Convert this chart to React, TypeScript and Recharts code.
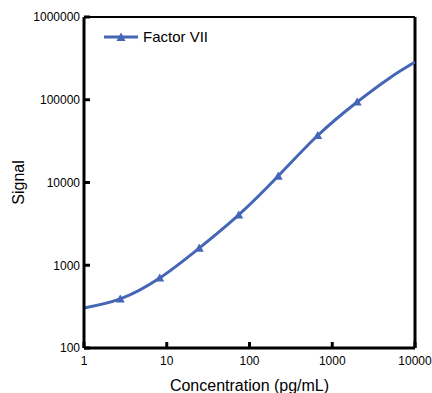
import {
  ComposedChart,
  Legend,
  Line,
  ReferenceLine,
  Scatter,
  XAxis,
  YAxis
} from "recharts";

// fitted curve (pg/mL, signal)
const curveConc = [1, 2.74, 8.23, 24.69, 74.07, 222.2, 666.7, 2000, 5000, 10000];
const curveSignal = [305, 392, 701, 1611, 4060, 11970, 37000, 94000, 185000, 285000];

// measured standards (3-fold dilutions from 2000 pg/mL)
const stdConc = [2.74, 8.23, 24.69, 74.07, 222.2, 666.7, 2000];
const stdSignal = [392, 701, 1611, 4060, 11970, 37000, 94000];

const xTicks = [1, 10, 100, 1000, 10000];
const yTicks = [100, 1000, 10000, 100000, 1000000];

const seriesName = "Factor VII";
const blue = "#4566b6";
const font = "'Liberation Sans', Arial, sans-serif";

const curveData = curveConc.map((x, i) => ({ x, y: curveSignal[i] }));
const stdData = stdConc.map((x, i) => ({ x, y: stdSignal[i] }));

function Triangle(props: any) {
  const { cx, cy } = props;
  if (cx == null || cy == null) return null;
  const s = 4.5;
  return (
    <path
      d={`M${cx},${cy - s} L${cx + s},${cy + s * 0.8} L${cx - s},${cy + s * 0.8} Z`}
      fill={blue}
    />
  );
}

function LegendBox() {
  return (
    <div style={{ display: "flex", alignItems: "center", fontFamily: font, fontSize: 15, color: "#000" }}>
      <svg width={34} height={12} style={{ display: "block" }}>
        <line x1={0} x2={34} y1={6} y2={6} stroke={blue} strokeWidth={3} />
        <path d="M17,1.5 L21.5,10 L12.5,10 Z" fill={blue} />
      </svg>
      <span style={{ marginLeft: 5 }}>{seriesName}</span>
    </div>
  );
}

export default function App() {
  return (
    <div style={{ position: "absolute", left: 0, top: 0, background: "#fff" }}>
      <ComposedChart
        width={432}
        height={393}
        margin={{ top: 17, right: 17, bottom: 0, left: 0 }}
        style={{ fontFamily: font }}
      >
        <XAxis
          dataKey="x"
          type="number"
          scale="log"
          domain={[1, 10000]}
          ticks={xTicks}
          allowDataOverflow
          height={45}
          axisLine={{ stroke: "#000", strokeWidth: 3 }}
          tickLine={{ stroke: "#000", strokeWidth: 3 }}
          tickSize={-6}
          tickMargin={14}
          tick={{ fill: "#000", fontSize: 12 }}
          interval={0}
          label={{
            value: "Concentration (pg/mL)",
            position: "insideBottom",
            offset: 2,
            fill: "#000",
            fontSize: 16
          }}
        />
        <YAxis
          dataKey="y"
          type="number"
          scale="log"
          domain={[100, 1000000]}
          ticks={yTicks}
          allowDataOverflow
          width={84}
          axisLine={{ stroke: "#000", strokeWidth: 3 }}
          tickLine={{ stroke: "#000", strokeWidth: 3 }}
          tickSize={-6}
          tickMargin={10}
          tick={{ fill: "#000", fontSize: 12 }}
          interval={0}
          label={{
            value: "Signal",
            angle: -90,
            position: "insideLeft",
            offset: 18,
            fill: "#000",
            fontSize: 16,
            style: { textAnchor: "middle" }
          }}
        />
        <ReferenceLine y={1000000} stroke="#000" strokeWidth={2} />
        <ReferenceLine x={10000} stroke="#000" strokeWidth={3} />
        <Line
          data={curveData}
          dataKey="y"
          type="natural"
          stroke={blue}
          strokeWidth={3}
          dot={false}
          activeDot={false}
          legendType="none"
          isAnimationActive={false}
        />
        <Scatter
          data={stdData}
          dataKey="y"
          name={seriesName}
          fill={blue}
          shape={<Triangle />}
          isAnimationActive={false}
        />
        <Legend
          verticalAlign="middle"
          align="center"
          content={() => <LegendBox />}
          wrapperStyle={{ position: "absolute", top: 28, left: 104, width: "auto", height: "auto" }}
        />
      </ComposedChart>
    </div>
  );
}
